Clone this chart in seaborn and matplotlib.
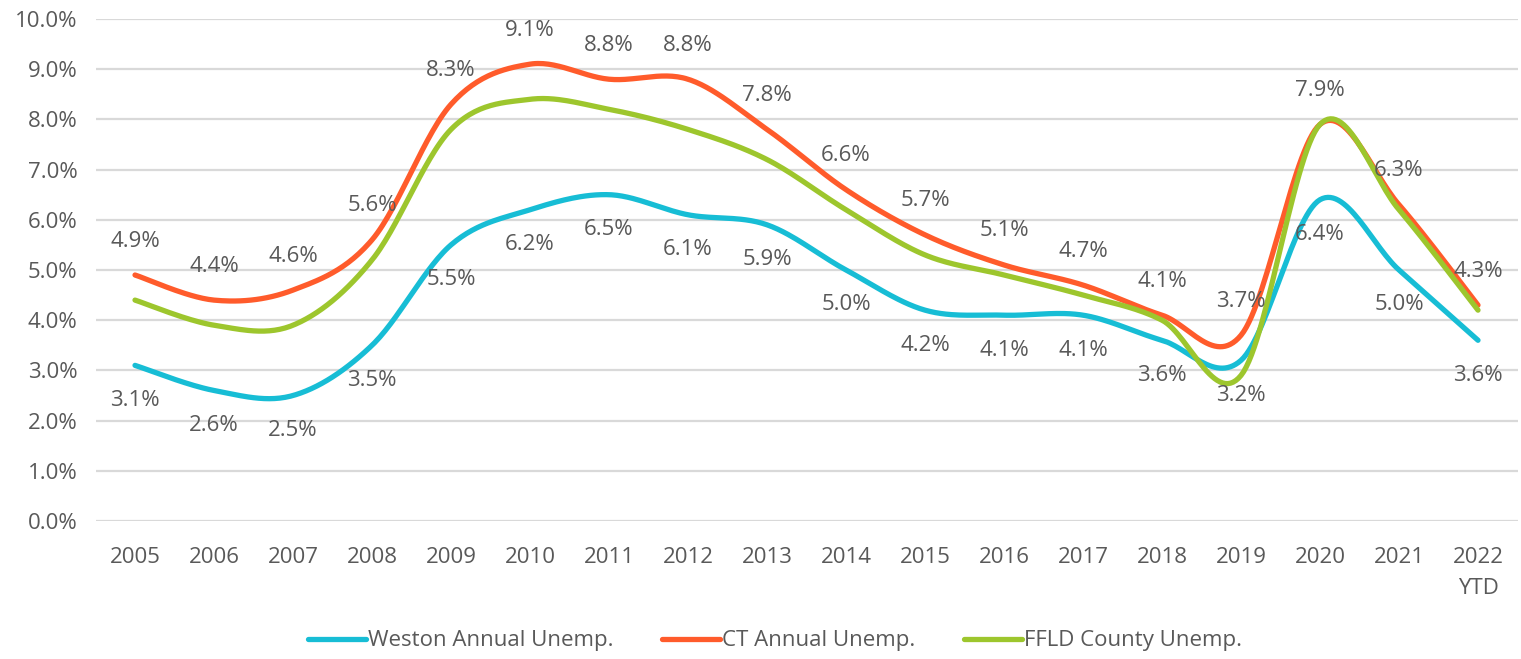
import numpy as np
import pandas as pd
import seaborn as sns
import matplotlib.pyplot as plt
from matplotlib.ticker import PercentFormatter

years = ['2005', '2006', '2007', '2008', '2009', '2010', '2011', '2012', '2013',
         '2014', '2015', '2016', '2017', '2018', '2019', '2020', '2021', '2022\nYTD']
weston = [3.1, 2.6, 2.5, 3.5, 5.5, 6.2, 6.5, 6.1, 5.9, 5.0, 4.2, 4.1, 4.1, 3.6, 3.2, 6.4, 5.0, 3.6]
ct = [4.9, 4.4, 4.6, 5.6, 8.3, 9.1, 8.8, 8.8, 7.8, 6.6, 5.7, 5.1, 4.7, 4.1, 3.7, 7.9, 6.3, 4.3]
ffld = [4.4, 3.9, 3.9, 5.2, 7.8, 8.4, 8.2, 7.8, 7.2, 6.2, 5.3, 4.9, 4.5, 4.0, 2.9, 7.9, 6.2, 4.2]

names = ['Weston Annual Unemp.', 'CT Annual Unemp.', 'FFLD County Unemp.']
colors = ['#17BDD5', '#FF5B2B', '#9DC62D']


def smooth(vals, n=30):
    # excel-like bezier smoothing (catmull-rom control points)
    p = np.array(vals, dtype=float)
    x = np.arange(len(p), dtype=float)
    pts = np.column_stack([x, p])
    out = []
    for i in range(len(pts) - 1):
        p0 = pts[i - 1] if i > 0 else pts[i]
        p1 = pts[i]
        p2 = pts[i + 1]
        p3 = pts[i + 2] if i + 2 < len(pts) else pts[i + 1]
        c1 = p1 + (p2 - p0) / 6
        c2 = p2 - (p3 - p1) / 6
        t = np.linspace(0, 1, n, endpoint=False)[:, None]
        seg = ((1 - t) ** 3) * p1 + 3 * ((1 - t) ** 2) * t * c1 + 3 * (1 - t) * t ** 2 * c2 + t ** 3 * p2
        out.append(seg)
    out.append(pts[-1:])
    return np.vstack(out)


frames = []
for name, vals in zip(names, [weston, ct, ffld]):
    s = smooth(vals)
    frames.append(pd.DataFrame({'x': s[:, 0], 'y': s[:, 1] / 100, 'series': name}))
df = pd.concat(frames, ignore_index=True)

sns.set_style('white')
plt.rcParams['font.family'] = ['Open Sans', 'DejaVu Sans']
txt = '#595959'
fs = 16

fig = plt.figure(figsize=(15.21, 6.59), dpi=100)
ax = fig.add_axes([0.0628, 0.2094, 0.9349, 0.7618])

sns.lineplot(data=df, x='x', y='y', hue='series', palette=colors, sort=False,
             estimator=None, linewidth=3.8, ax=ax)

# data labels for Weston (below) and CT (above)
for i in range(len(years)):
    ax.annotate(f'{ct[i]:.1f}%', (i, ct[i] / 100), xytext=(0, 34), textcoords='offset pixels',
                ha='center', va='center', fontsize=fs, color=txt)
    ax.annotate(f'{weston[i]:.1f}%', (i, weston[i] / 100), xytext=(0, -35), textcoords='offset pixels',
                ha='center', va='center', fontsize=fs, color=txt)

ax.set_xlim(-0.5, len(years) - 0.5)
ax.set_ylim(0, 0.10)
ax.set_yticks(np.arange(0, 0.1001, 0.01))
ax.yaxis.set_major_formatter(PercentFormatter(1.0, decimals=1))
ax.set_xticks(range(len(years)))
ax.set_xticklabels(years, linespacing=1.6)
ax.tick_params(axis='both', labelsize=fs, colors=txt, length=0)
ax.tick_params(axis='x', pad=19)
ax.tick_params(axis='y', pad=13)
ax.grid(axis='y', color='#D9D9D9', linewidth=1.6)
ax.set_axisbelow(True)
sns.despine(ax=ax, left=True, bottom=True)
ax.set_xlabel('')
ax.set_ylabel('')

sns.move_legend(ax, 'center', bbox_to_anchor=(0.478, -0.239), ncol=3, frameon=False,
                title=None, fontsize=fs, handlelength=2.6, columnspacing=2.2, handletextpad=0.1)
for t in ax.get_legend().get_texts():
    t.set_color(txt)

fig.savefig('out.png', dpi=100)
